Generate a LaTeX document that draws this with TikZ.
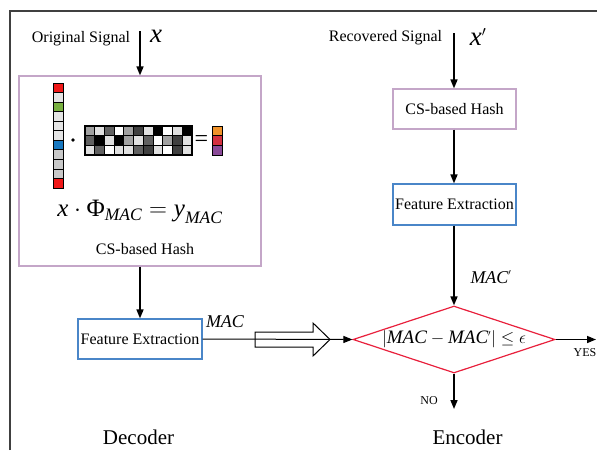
\documentclass[tikz,border=0pt]{standalone}
\usepackage{amsmath}
\usepackage{fontspec}
\setmainfont{Liberation Serif}
\usetikzlibrary{arrows.meta,shapes.geometric}
\definecolor{purp}{HTML}{C4A6C8}
\definecolor{bluebox}{HTML}{4A86C8}
\definecolor{redd}{HTML}{E8203C}
\definecolor{vred}{HTML}{F01818}
\definecolor{vlg}{HTML}{E4E4E4}
\definecolor{vmg}{HTML}{C8C8C8}
\definecolor{vgreen}{HTML}{78B040}
\definecolor{vblue}{HTML}{1878C0}
\definecolor{rorange}{HTML}{F0922A}
\definecolor{rred}{HTML}{D43040}
\definecolor{rpurple}{HTML}{8A4A98}
\definecolor{framec}{HTML}{404040}
\newcommand{\iv}[1]{\text{\itshape #1}}
\newcommand{\pr}{^{\scriptscriptstyle\prime}}
\begin{document}
\begin{tikzpicture}[x=1pt,y=-1pt,
  txt/.style={font=\fontsize{16}{18}\selectfont, inner sep=0pt},
  bigx/.style={font=\fontsize{27}{29}\selectfont, inner sep=0pt},
  lbl/.style={font=\fontsize{18}{20}\selectfont, inner sep=0pt},
  small/.style={font=\fontsize{12}{14}\selectfont, inner sep=0pt},
  title/.style={font=\fontsize{21}{24}\selectfont, inner sep=0pt},
  hashbox/.style={draw=purp, line width=1.2pt, inner sep=0pt},
  febox/.style={draw=bluebox, line width=1.2pt, inner sep=0pt, font=\fontsize{16}{18}\selectfont},
  decbox/.style={diamond, draw=redd, line width=1.2pt, inner sep=0pt, minimum width=202pt, minimum height=67pt},
  arr/.style={line width=1.6pt, -{Triangle[length=9pt,width=7pt]}},
  thinarr/.style={line width=1pt, -{Triangle[length=9pt,width=7pt]}},
  cell/.style={draw=black, line width=0.9pt}
]
\useasboundingbox (0,0) rectangle (597,450);
\draw[framec, line width=1.5pt] (10,450) -- (10,11) -- (597,11);

% left (decoder)
\node[txt] (osig) at (81,39) {Original Signal};
\node[bigx] (xl) at (156,36) {\itshape x};
\coordinate (xin) at (140,31);
\node[hashbox, minimum width=242pt, minimum height=190pt] (hash) at (140,171) {};
\draw[arr] (xin) -- (hash.north);

% vector
\foreach \c [count=\i from 0] in {vred,vlg,vgreen,vlg,vlg,vlg,vblue,vmg,vmg,vmg,vred}
  \filldraw[cell, fill=\c] (53,83+\i*9.55) rectangle ++(10,9.55);
\fill (73,140) circle (1.9);
% matrix
\foreach \row [count=\r from 0] in {{37,12,62,0,37,75,12,100,0,12,100},{62,100,12,100,37,12,62,0,37,75,12},{12,62,0,12,12,62,75,12,0,75,12}}
  \foreach \v [count=\c from 0] in \row
    \filldraw[cell, fill=black!\v] (85+\c*9.73,126+\r*9.67) rectangle ++(9.73,9.67);
\draw[line width=1.3pt] (85,126) rectangle (192,155);
\node[font=\fontsize{24}{24}\selectfont, inner sep=0pt] (eq) at (201.5,141) {=};
\foreach \c [count=\i from 0] in {rorange,rred,rpurple}
  \filldraw[cell, fill=\c] (212,126+\i*9.67) rectangle ++(10,9.67);

\node[font=\fontsize{25}{27}\selectfont, inner sep=0pt] (form) at (140,212) {$\iv{x}\cdot\text{Φ}_{\iv{MAC}}=\iv{y}_{\iv{MAC}}$};
\node[txt] (hashlbl) at (145,249) {CS-based Hash};

\node[febox, minimum width=124pt, minimum height=40pt] (fe1) at (140,339) {Feature Extraction};
\draw[arr] (hash.south) -- (fe1.north);
\node[lbl] (macl) at (225,322) {\itshape MAC};

% right (encoder)
\node[txt] (rsig) at (385.5,38) {Recovered Signal};
\node[bigx] (xp) at (478,37) {$\iv{x}\pr$};
\coordinate (xin2) at (454,33);
\node[hashbox, minimum width=123pt, minimum height=40pt, font=\fontsize{16}{18}\selectfont] (hash2) at (454.5,109) {CS-based Hash};
\node[febox, minimum width=123pt, minimum height=41pt] (fe2) at (454.5,204.5) {Feature Extraction};
\node[decbox] (dec) at (454,339.5) {};
\node[inner sep=0pt, font=\fontsize{19}{21}\selectfont] (cond) at (dec.center) {$|\iv{MAC}-\iv{MAC}\pr|\leq\epsilon$};
\draw[arr] (xin2) -- (xin2 |- hash2.north);
\draw[arr] (hash2.south -| xin2) -- (xin2 |- fe2.north);
\draw[arr] (fe2.south -| dec.north) -- (dec.north);
\node[lbl] (mac2) at (491,277) {$\iv{MAC}\pr$};

% connection
\draw[thinarr] (fe1.east) -- (dec.west);
\draw[line width=1pt] (255,332) -- (313,332) -- (313,323) -- (330,339.5) -- (313,356) -- (313,347) -- (255,347) -- cycle;

\coordinate (yesend) at (596,339.5);
\draw[arr] (dec.east) -- (yesend);
\node[small] (yes) at (585,353) {YES};
\coordinate (noend) at (454,409);
\draw[arr] (dec.south) -- (noend);
\node[small] (no) at (429,401) {NO};

\node[title] (decoder) at (138.5,437) {Decoder};
\node[title] (encoder) at (467.5,437) {Encoder};
\end{tikzpicture}
\end{document}
